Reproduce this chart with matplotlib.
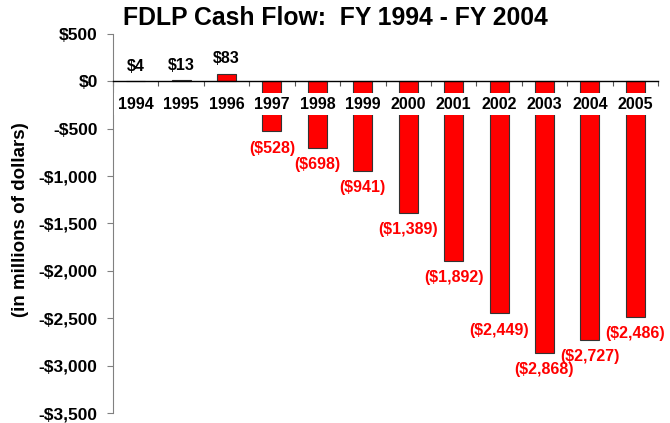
"""
FDLP cash flow bar chart, FY 1994 - FY 2005.
"""
import numpy as np
import matplotlib
matplotlib.use('Agg')
import matplotlib.pyplot as plt
from matplotlib.ticker import FuncFormatter

plt.rcParams['font.family'] = ['Liberation Sans', 'DejaVu Sans']
plt.rcParams['font.weight'] = 'bold'

years = ['1994', '1995', '1996', '1997', '1998', '1999',
         '2000', '2001', '2002', '2003', '2004', '2005']
cash_flow = [4, 13, 83, -528, -698, -941, -1389, -1892, -2449, -2868, -2727, -2486]

title = 'FDLP Cash Flow:  FY 1994 - FY 2004'
ylabel = '(in millions of dollars)'


def money(v, pos=None):
    v = int(round(v))
    if v < 0:
        return '-${:,}'.format(-v)
    return '${:,}'.format(v)


def bar_label(v):
    if v < 0:
        return '(${:,})'.format(-v)
    return '${:,}'.format(v)


fig = plt.figure(figsize=(6.7, 4.23), dpi=100)
ax = fig.add_axes([113 / 670, 1 - 413 / 423, (658 - 113) / 670, (413 - 34) / 423])

x = np.arange(len(years))
ax.bar(x, cash_flow, width=0.42, color='#ff0000', edgecolor='#333333', linewidth=0.8, zorder=2)

ax.set_xlim(-0.5, len(years) - 0.5)
ax.set_ylim(-3500, 500)
ax.set_yticks(np.arange(-3500, 501, 500))
ax.yaxis.set_major_formatter(FuncFormatter(money))

# axes styling
for side in ['top', 'right']:
    ax.spines[side].set_visible(False)
ax.spines['left'].set_color('#808080')
ax.spines['bottom'].set_position(('data', 0))
ax.spines['bottom'].set_color('black')
ax.spines['bottom'].set_linewidth(1.0)
ax.spines['bottom'].set_zorder(3)

ax.set_xticks(np.arange(-0.5, len(years), 1.0))
ax.set_xticklabels([])
ax.tick_params(axis='x', direction='out', length=3.5, width=0.8, color='#555555')
ax.tick_params(axis='y', direction='out', length=4.5, width=0.8, color='#808080',
               labelsize=12.5, pad=6.5)

# year labels sitting just below zero line, blanking the bars behind
for i, yr in enumerate(years):
    ax.text(i, -240, yr, ha='center', va='center', fontsize=11.5, fontweight='bold',
            bbox=dict(facecolor='white', edgecolor='none', pad=2.5), zorder=4)

# value labels
for i, v in enumerate(cash_flow):
    if v >= 0:
        ax.annotate(bar_label(v), (i, v), xytext=(0, 10.5), textcoords='offset points',
                    ha='center', va='center', fontsize=11.5, fontweight='bold', color='black')
    else:
        ax.annotate(bar_label(v), (i, v), xytext=(0, -12), textcoords='offset points',
                    ha='center', va='center', fontsize=11.5, fontweight='bold', color='#ff0000')

fig.text(0.5, 1 - 18 / 423, title, ha='center', va='center', fontsize=17.8, fontweight='bold')
fig.text(21 / 670, 1 - 220 / 423, ylabel, rotation=90, ha='center', va='center',
         fontsize=13.5, fontweight='bold')

fig.savefig('out.png', dpi=100, facecolor='white')
